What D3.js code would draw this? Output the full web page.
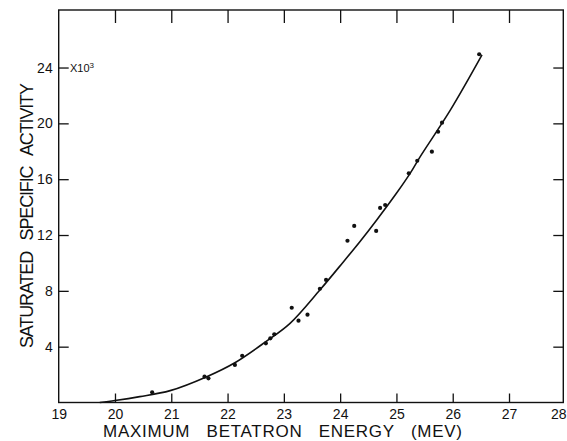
<!DOCTYPE html>
<html>
<head>
<meta charset="utf-8">
<script src="https://cdn.jsdelivr.net/npm/d3@7"></script>
<style>
  html, body { margin: 0; padding: 0; background: #fff; }
  svg { display: block; }
  text { font-family: "Liberation Sans", Arial, sans-serif; fill: #111; }
  .title { white-space: pre; }
</style>
</head>
<body>
<div id="chart"></div>
<script>
// measured points (energy in MeV, activity in thousands)
const energy = [20.66, 21.59, 21.66, 22.13, 22.26, 22.68, 22.76, 22.83, 23.14, 23.26,
  23.42, 23.64, 23.75, 24.13, 24.25, 24.64, 24.71, 24.80, 25.22, 25.37,
  25.63, 25.74, 25.81, 26.47];
const activity = [0.73, 1.85, 1.73, 2.69, 3.35, 4.24, 4.60, 4.89, 6.79, 5.86,
  6.29, 8.15, 8.78, 11.59, 12.65, 12.29, 13.94, 14.15, 16.42, 17.32,
  17.97, 19.40, 20.05, 24.95];

// smooth curve drawn through the points
const curveEnergy = [19.73, 20.0, 20.44, 20.98, 21.63, 22.13, 22.68, 23.11, 23.64,
  24.06, 24.35, 24.65, 25.0, 25.24, 25.42, 25.96, 26.52];
const curveActivity = [0.0, 0.14, 0.42, 0.85, 1.85, 2.85, 4.36, 5.67, 8.06,
  10.09, 11.52, 13.08, 14.99, 16.4, 17.6, 20.96, 24.9];

const xTicks = [19, 20, 21, 22, 23, 24, 25, 26, 27, 28];
const yTicks = [4, 8, 12, 16, 20, 24];

const width = 567, height = 441;
const plotLeft = 58.7, plotRight = 563.3, plotTop = 10, plotBottom = 402.5;

const x = d3.scaleLinear().domain([19, 28]).range([plotLeft, 565.3]);
const y = d3.scaleLinear().domain([0, 28]).range([plotBottom, 11.7]);

const svg = d3.select("#chart").append("svg")
  .attr("width", width)
  .attr("height", height);

// frame
svg.append("rect")
  .attr("x", plotLeft).attr("y", plotTop)
  .attr("width", plotRight - plotLeft).attr("height", plotBottom - plotTop)
  .attr("fill", "none")
  .attr("stroke", "#111")
  .attr("stroke-width", 1.4);

// bottom axis, ticks pointing inward
const xAxis = svg.append("g")
  .attr("transform", `translate(0,${plotBottom})`)
  .call(d3.axisBottom(x).tickValues(xTicks).tickSize(-9).tickPadding(7).tickFormat(d3.format("d")));
xAxis.select(".domain").remove();
xAxis.selectAll(".tick line").filter(d => d === 19 || d === 28).remove();
xAxis.selectAll(".tick line").attr("stroke", "#111").attr("stroke-width", 1.3);
xAxis.selectAll("text").attr("font-size", 14).attr("font-family", "Liberation Sans, Arial, sans-serif").attr("fill", "#111");
// last label sits against the page edge
xAxis.selectAll("text").filter(d => d === 28)
  .attr("text-anchor", "end")
  .attr("x", 566 - x(28));

// top ticks
const xTop = svg.append("g")
  .attr("transform", `translate(0,${plotTop})`)
  .call(d3.axisTop(x).tickValues(xTicks.slice(1, -1)).tickSize(-13).tickFormat(""));
xTop.select(".domain").remove();
xTop.selectAll(".tick line").attr("stroke", "#111").attr("stroke-width", 1.3);

// left axis
const yAxis = svg.append("g")
  .attr("transform", `translate(${plotLeft},0)`)
  .call(d3.axisLeft(y).tickValues(yTicks).tickSize(-10).tickPadding(6).tickFormat(d3.format("d")));
yAxis.select(".domain").remove();
yAxis.selectAll(".tick line").attr("stroke", "#111").attr("stroke-width", 1.3);
yAxis.selectAll("text").attr("font-size", 14).attr("font-family", "Liberation Sans, Arial, sans-serif").attr("fill", "#111");

// right ticks
const yRight = svg.append("g")
  .attr("transform", `translate(${plotRight},0)`)
  .call(d3.axisRight(y).tickValues(yTicks).tickSize(-10).tickFormat(""));
yRight.select(".domain").remove();
yRight.selectAll(".tick line").attr("stroke", "#111").attr("stroke-width", 1.3);

// x10^3 note
const note = svg.append("text")
  .attr("x", 70).attr("y", y(24) + 4)
  .attr("font-size", 11);
note.append("tspan").text("X10");
note.append("tspan").attr("dy", -4).attr("font-size", 8).text("3");

// fitted curve
const line = d3.line()
  .x((d, i) => x(curveEnergy[i]))
  .y((d, i) => y(curveActivity[i]))
  .curve(d3.curveCatmullRom.alpha(0.5));

svg.append("path")
  .attr("d", line(curveEnergy))
  .attr("fill", "none")
  .attr("stroke", "#111")
  .attr("stroke-width", 1.6);

// data points
svg.append("g")
  .selectAll("circle")
  .data(energy)
  .join("circle")
  .attr("cx", (d) => x(d))
  .attr("cy", (d, i) => y(activity[i]))
  .attr("r", 2.1)
  .attr("fill", "#111");

// axis titles
svg.append("text")
  .attr("class", "title")
  .attr("x", 103).attr("y", 437)
  .attr("font-size", 17)
  .attr("textLength", 359)
  .attr("lengthAdjust", "spacing")
  .text("MAXIMUM   BETATRON   ENERGY   (MEV)");

svg.append("text")
  .attr("class", "title")
  .attr("transform", "translate(33,348) rotate(-90)")
  .attr("font-size", 18)
  .attr("textLength", 265)
  .attr("lengthAdjust", "spacing")
  .text("SATURATED   SPECIFIC   ACTIVITY");
</script>
</body>
</html>
